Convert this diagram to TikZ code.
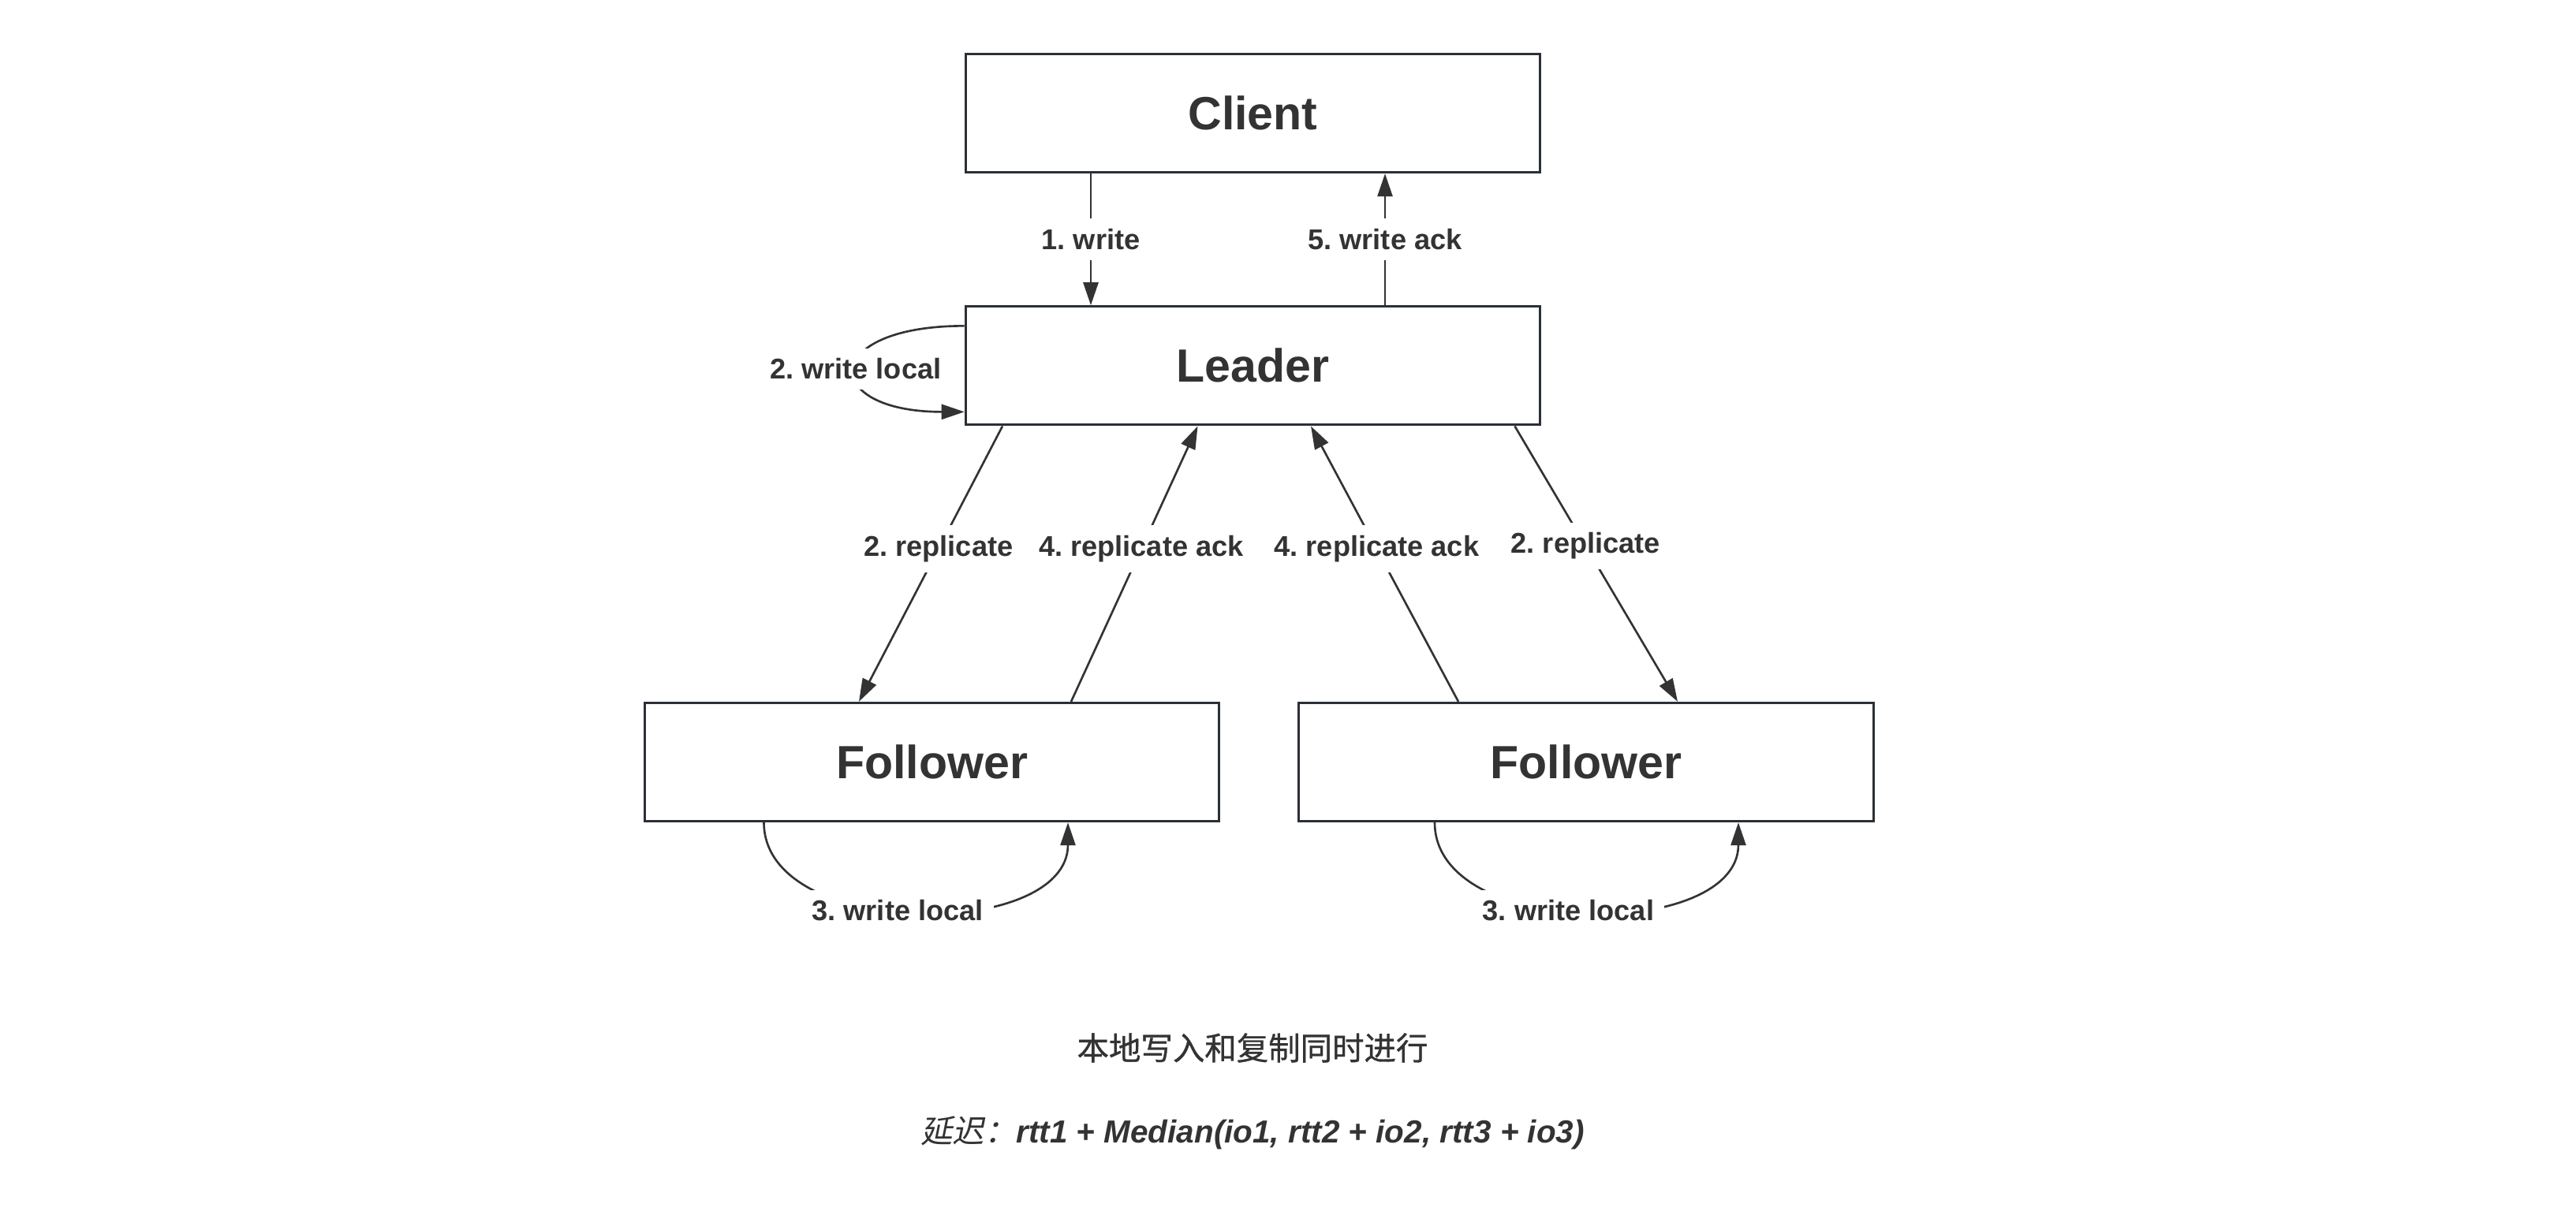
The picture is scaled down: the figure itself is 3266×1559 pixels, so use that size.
\documentclass[tikz,border=0pt]{standalone}
\usepackage{fontspec}
\setmainfont{Liberation Sans}
\newfontfamily\cjkfont{Noto Sans CJK SC}[FakeBold=0.8]
\newfontfamily\cjkslant{Noto Sans CJK SC}[FakeSlant=0.2]
\usetikzlibrary{positioning,arrows.meta,calc}
\definecolor{ink}{HTML}{333333}
\definecolor{frame}{HTML}{2B3036}
\frenchspacing

\begin{document}
\begin{tikzpicture}[
  x=0.01cm, y=0.01cm,
  font=\fontsize{10.3}{12}\selectfont\bfseries,
  every node/.style={text=ink},
  box/.style={draw=frame, line width=0.9pt, minimum width=7.28cm, minimum height=1.50cm,
              font=\fontsize{16.8}{20}\selectfont\bfseries},
  arrow/.style={-{Triangle[length=2.9mm,width=1.9mm]}, draw=ink, line width=0.75pt},
  msg/.style={fill=white, inner sep=1.3mm},
]
\path[use as bounding box, fill=white] (0,0) rectangle (3266,1559);

% ===== nodes =====
\node[box] (client) at (1588.5,1415.5) {Client};
\node[box, below=1.67cm of client] (leader) {Leader};
\node[box] (fol1) at (1181.5,592.5) {Follower};
\node[box] (fol2) at (2011,592.5) {Follower};

% ===== client <-> leader =====
\draw[arrow] ($(client.south)+(-205.5,0)$) -- node[msg]{1. write} ($(leader.north)+(-205.5,0)$);
\draw[arrow] ($(leader.north)+(167.5,0)$) -- node[msg]{5. write ack} ($(client.south)+(167.5,0)$);
\draw[arrow] ($(leader.west)+(0,50.5)$) .. controls +(-184,0) and +(-184,0) ..
  node[msg]{2. write local} ($(leader.west)+(0,-58.5)$);

% ===== leader <-> followers =====
\draw[arrow] ($(leader.south)+(-317.5,0)$) -- node[msg, pos=0.446]{2. replicate} ($(fol1.north)+(-92.5,0)$);
\draw[arrow] ($(fol1.north)+(176.5,0)$) -- node[msg, pos=0.554]{4. replicate ack} ($(leader.south)+(-70,0)$);
\draw[arrow] ($(fol2.north)+(-162,0)$) -- node[msg, pos=0.554]{4. replicate ack} ($(leader.south)+(73.5,0)$);
\draw[arrow] ($(leader.south)+(332,0)$) -- node[msg, pos=0.435]{2. replicate} ($(fol2.north)+(116,0)$);

% ===== local writes =====
\draw[arrow] ($(fol1.south)+(-213,0)$) .. controls +(0,-150) and +(0,-150) ..
  node[msg, pos=0.46]{3. write local} ($(fol1.south)+(172.5,0)$);
\draw[arrow] ($(fol2.south)+(-192,0)$) .. controls +(0,-150) and +(0,-150) ..
  node[msg, pos=0.46]{3. write local} ($(fol2.south)+(193,0)$);

% ===== notes =====
\node[font=\fontsize{11.5}{14}\selectfont\cjkfont] (note) at (1588,230) {本地写入和复制同时进行};
\node[font=\fontsize{11.5}{14}\selectfont] (delay) at (1588,122)
  {{\cjkslant 延迟：}{\bfseries\itshape rtt1 + Median(io1, rtt2 + io2, rtt3 + io3)}};
\end{tikzpicture}
\end{document}
